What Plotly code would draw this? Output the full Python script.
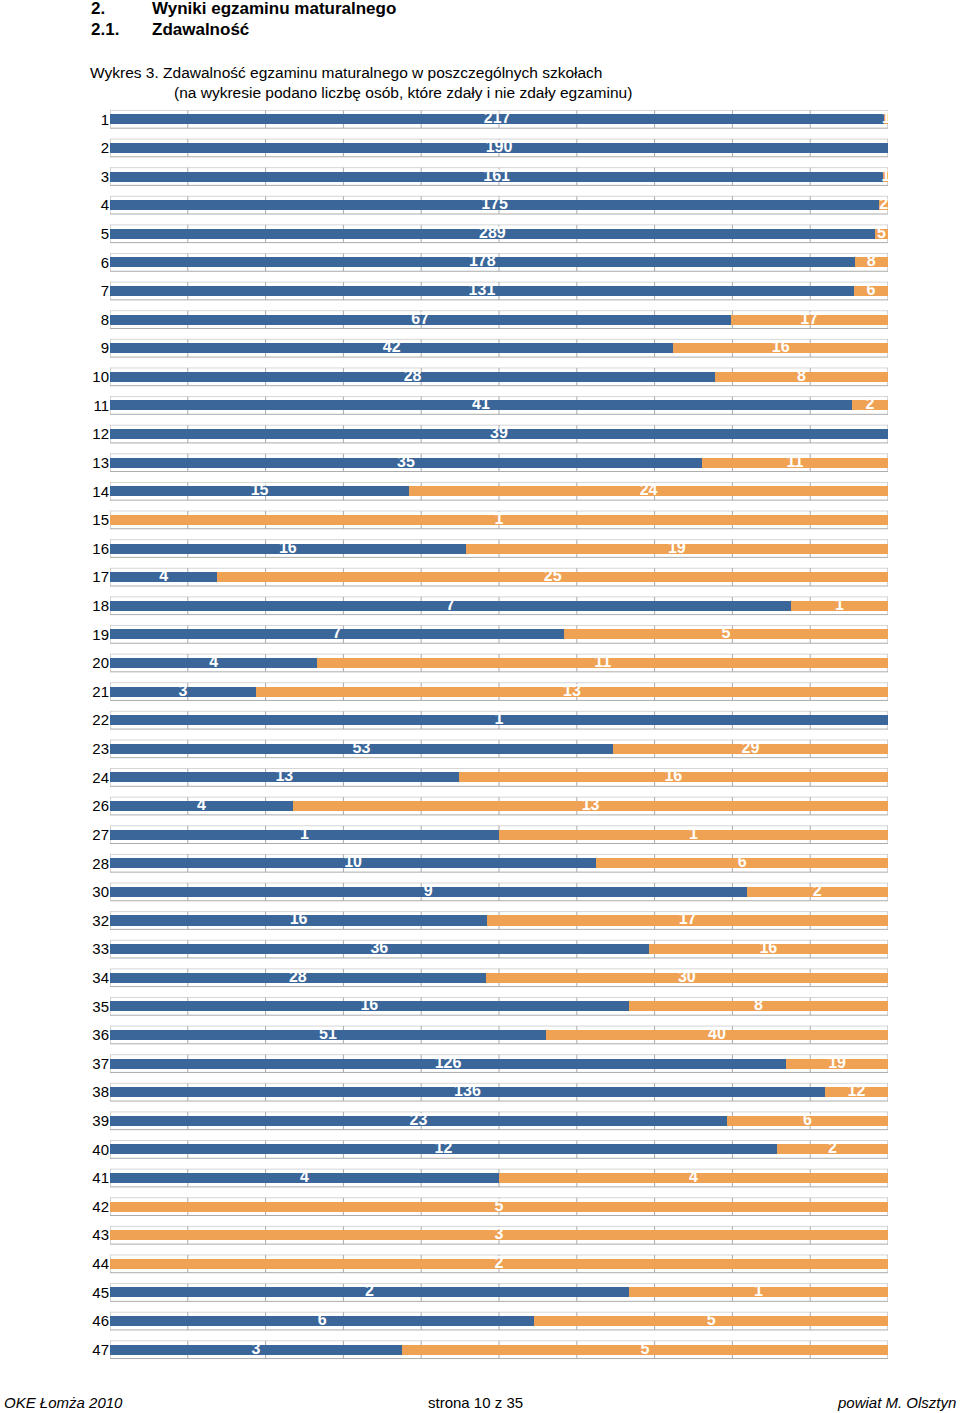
import plotly.graph_objects as go

# ---- data ----
schools = ["1", "2", "3", "4", "5", "6", "7", "8", "9", "10", "11", "12", "13", "14", "15",
           "16", "17", "18", "19", "20", "21", "22", "23", "24", "26", "27", "28", "30", "32",
           "33", "34", "35", "36", "37", "38", "39", "40", "41", "42", "43", "44", "45", "46", "47"]
passed = [217, 190, 161, 175, 289, 178, 131, 67, 42, 28, 41, 39, 35, 15, 0,
          16, 4, 7, 7, 4, 3, 1, 53, 13, 4, 1, 10, 9, 16,
          36, 28, 16, 51, 126, 136, 23, 12, 4, 0, 0, 0, 2, 6, 3]
failed = [1, 0, 1, 2, 5, 8, 6, 17, 16, 8, 2, 0, 11, 24, 1,
          19, 25, 1, 5, 11, 13, 0, 29, 16, 13, 1, 6, 2, 17,
          16, 30, 8, 40, 19, 12, 6, 2, 4, 5, 3, 2, 1, 5, 5]
grid_ticks = [0, 10, 20, 30, 40, 50, 60, 70, 80, 90, 100]

BLUE = "#3A6699"
ORANGE = "#F0A254"
FONT = "Liberation Sans, Arial, sans-serif"

W, H = 960, 1413
n = len(schools)
ROWPX = (1350 - 119) / (n - 1)
TOP = 119 - ROWPX / 2
PH = ROWPX * n
ML, MR = 110, 72
MT = TOP
MB = H - MT - PH
ypos = list(range(n))

fig = go.Figure()

# row boxes / grid lines (shapes below bars)
half = 0.31
shapes = []
for i in ypos:
    shapes.append(dict(type="line", xref="x", yref="y", x0=0, x1=100, y0=i - half, y1=i - half,
                       line=dict(color="#D6D6D6", width=1), layer="below"))
    shapes.append(dict(type="line", xref="x", yref="y", x0=0, x1=100, y0=i + half, y1=i + half,
                       line=dict(color="#ABABAB", width=1), layer="below"))
    for t in grid_ticks:
        shapes.append(dict(type="line", xref="x", yref="y", x0=t, x1=t, y0=i - half, y1=i + half,
                           line=dict(color="#ABABAB", width=1), layer="below"))

common = dict(orientation="h", width=0.35, hoverinfo="skip", showlegend=False, textposition="none")
fig.add_trace(go.Bar(y=ypos, x=passed, marker=dict(color=BLUE, line=dict(width=0)),
                     name="zdali", **common))
fig.add_trace(go.Bar(y=ypos, x=failed, marker=dict(color=ORANGE, line=dict(width=0)),
                     name="nie zdali", **common))

# value labels centred in each segment
lx, ly, lt = [], [], []
for i, (p, f) in enumerate(zip(passed, failed)):
    tot = p + f
    if p > 0:
        lx.append(p / tot * 50)
        ly.append(i)
        lt.append("<b>%d</b>" % p)
    if f > 0:
        lx.append((p + f / 2) / tot * 100)
        ly.append(i)
        lt.append("<b>%d</b>" % f)
fig.add_trace(go.Scatter(x=lx, y=ly, text=lt, mode="text", textposition="middle center",
                         textfont=dict(family=FONT, size=16, color="white"),
                         cliponaxis=False, hoverinfo="skip", showlegend=False))

pw = W - ML - MR

def px(x):
    return (x - ML) / pw

def py(y):
    return (H - MB - y) / PH

ann = []
def add(text, x, y, anchor="left", size=15, bold=False, italic=False):
    t = text
    if bold:
        t = "<b>" + t + "</b>"
    if italic:
        t = "<i>" + t + "</i>"
    ann.append(dict(text=t, x=px(x), y=py(y), xref="paper", yref="paper", xanchor=anchor,
                    yanchor="middle", showarrow=False,
                    font=dict(family=FONT, size=size, color="black")))

add("2.", 89, 8, bold=True, size=17)
add("Wyniki egzaminu maturalnego", 150, 8, bold=True, size=17)
add("2.1.", 89, 29, bold=True, size=17)
add("Zdawalność", 150, 29, bold=True, size=17)
add("Wykres 3. Zdawalność egzaminu maturalnego w poszczególnych szkołach", 88, 72, size=15.5)
add("(na wykresie podano liczbę osób, które zdały i nie zdały egzaminu)", 172, 92, size=15.5)
add("OKE Łomża 2010", 2, 1403, italic=True, size=15)
add("strona 10 z 35", 475, 1403, anchor="center", size=15)
add("powiat M. Olsztyn", 958, 1403, anchor="right", italic=True, size=15)

fig.update_layout(
    width=W, height=H, margin=dict(l=ML, r=MR, t=MT, b=MB, pad=0),
    barmode="stack", barnorm="percent",
    paper_bgcolor="white", plot_bgcolor="white",
    annotations=ann, shapes=shapes,
    xaxis=dict(range=[0, 100], showgrid=False, zeroline=False, showticklabels=False,
               showline=False, fixedrange=True),
    yaxis=dict(range=[n - 0.5, -0.5], tickvals=ypos, ticktext=schools, showgrid=False,
               zeroline=False, showline=False, ticks="", ticklen=0,
               tickfont=dict(family=FONT, size=15, color="black"), fixedrange=True),
)

fig.write_html("out.html", config={"displayModeBar": False},
               post_script="document.body.style.margin='0px';")
